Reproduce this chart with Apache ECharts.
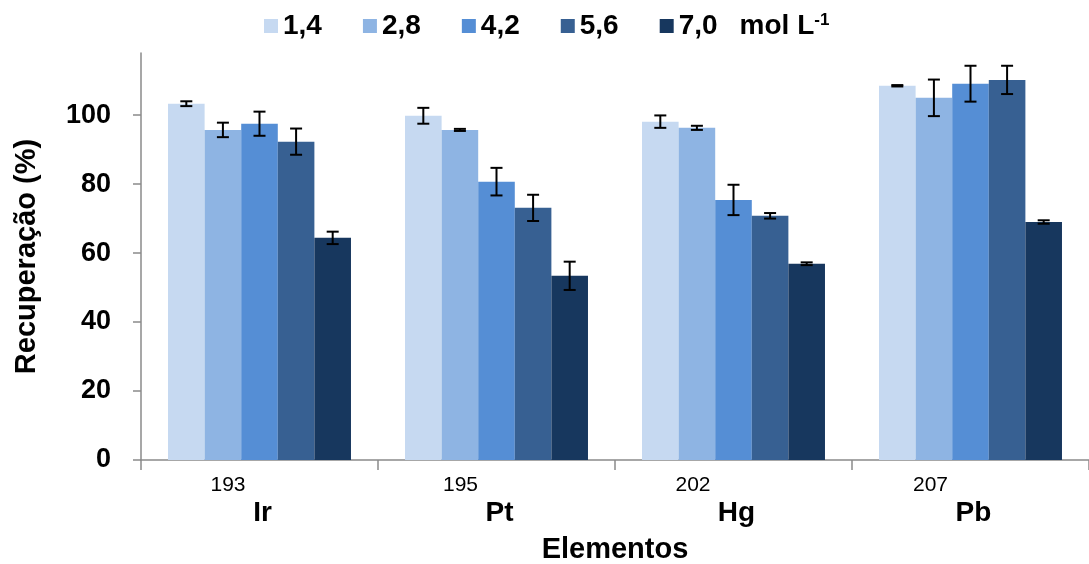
<!DOCTYPE html>
<html>
<head>
<meta charset="utf-8">
<script src="https://cdn.jsdelivr.net/npm/echarts@6/dist/echarts.min.js"></script>
<style>
  html, body { margin: 0; padding: 0; background: #fff; }
  #chart { width: 1089px; height: 564px; }
</style>
</head>
<body>
<div id="chart"></div>
<script>
// Elements and their mass numbers (isotope notation on the category axis)
const elements = ['Ir', 'Pt', 'Hg', 'Pb'];
const massNumbers = ['193', '195', '202', '207'];

// Acid concentrations (mol L-1), one bar series each
const concentrations = ['1,4', '2,8', '4,2', '5,6', '7,0'];

// Recovery (%) per concentration, ordered as `elements`
const rec14 = [103.3, 99.8, 98.1, 108.5];
const rec28 = [95.7, 95.7, 96.3, 105.0];
const rec42 = [97.5, 80.7, 75.4, 109.1];
const rec56 = [92.3, 73.1, 70.8, 110.2];
const rec70 = [64.4, 53.4, 56.9, 69.0];

// Standard deviations (%) per concentration
const sd14 = [0.7, 2.3, 1.8, 0.2];
const sd28 = [2.1, 0.3, 0.6, 5.3];
const sd42 = [3.5, 4.0, 4.4, 5.2];
const sd56 = [3.8, 3.8, 0.8, 4.1];
const sd70 = [1.8, 4.1, 0.4, 0.5];

// Y axis tick values
const yTicks = [0, 20, 40, 60, 80, 100];

const recovery = [rec14, rec28, rec42, rec56, rec70];
const deviations = [sd14, sd28, sd42, sd56, sd70];
const colors = ['#C6D9F1', '#8EB4E3', '#558ED5', '#376092', '#17375E'];

const FONT = '"Liberation Sans", Arial, sans-serif';
const CAT_GAP = 0.228;
const AXIS_COLOR = '#8a8a8a';
const NUM_FONT = '21px ' + FONT;
const EL_FONT = 'bold 28px ' + FONT;

// text width helper for placing the mass number left of the symbol
const measureCtx = document.createElement('canvas').getContext('2d');
function textWidth(str, font) {
  measureCtx.font = font;
  return measureCtx.measureText(str).width;
}

const chart = echarts.init(document.getElementById('chart'), null, { renderer: 'canvas' });

const barSeries = concentrations.map((name, k) => ({
  name: name,
  type: 'bar',
  data: recovery[k],
  barGap: 0,
  barCategoryGap: (CAT_GAP * 100) + '%',
  itemStyle: { color: colors[k] },
  emphasis: { disabled: true },
  z: 2
}));

// error bars (mean ± sd) drawn over each bar of the group
const errorSeries = concentrations.map((name, k) => ({
  name: 'sd ' + name,
  type: 'custom',
  data: recovery[k].map((v, i) => [i, v, deviations[k][i]]),
  z: 5,
  silent: true,
  renderItem: function (params, api) {
    const cat = api.value(0), v = api.value(1), e = api.value(2);
    const band = api.size([1, 0])[0];
    const bw = band * (1 - CAT_GAP) / concentrations.length;
    const cx = api.coord([cat, v])[0] + (k - (concentrations.length - 1) / 2) * bw;
    const yTop = api.coord([cat, v + e])[1];
    const yBot = api.coord([cat, v - e])[1];
    const cap = 6;
    const st = { stroke: '#000', lineWidth: 2 };
    return {
      type: 'group',
      children: [
        { type: 'line', shape: { x1: cx, y1: yTop, x2: cx, y2: yBot }, style: st },
        { type: 'line', shape: { x1: cx - cap, y1: yTop, x2: cx + cap, y2: yTop }, style: st },
        { type: 'line', shape: { x1: cx - cap, y1: yBot, x2: cx + cap, y2: yBot }, style: st }
      ]
    };
  }
}));

// rich styles for the category labels: mass number sits up and to the left of the symbol
const catRich = {
  el: { fontFamily: FONT, fontSize: 28, fontWeight: 'bold', color: '#000', lineHeight: 32, padding: [0, 0, 0, 6] }
};
massNumbers.forEach((num, idx) => {
  const wNum = textWidth(num, NUM_FONT);
  const wEl = textWidth(elements[idx], EL_FONT);
  catRich['n' + idx] = {
    fontFamily: FONT, fontSize: 21, color: '#000', lineHeight: 24,
    padding: [0, Math.round(wNum + wEl + 9), 0, 0]
  };
});

const option = {
  animation: false,
  backgroundColor: '#fff',
  textStyle: { fontFamily: FONT },
  legend: {
    data: concentrations,
    left: 259,
    top: 7,
    itemWidth: 14,
    itemHeight: 14,
    itemGap: 41,
    icon: 'rect',
    textStyle: {
      fontFamily: FONT, fontSize: 28, fontWeight: 'bold', color: '#000',
      rich: {
        v: { fontFamily: FONT, fontSize: 28, fontWeight: 'bold', color: '#000' },
        u: { fontFamily: FONT, fontSize: 28, fontWeight: 'bold', color: '#000', padding: [0, 0, 0, 22] },
        s: { fontFamily: FONT, fontSize: 17, fontWeight: 'bold', color: '#000', verticalAlign: 'top' }
      }
    },
    formatter: function (name) {
      return name === '7,0' ? '{v|7,0}{u|mol L}{s|-1}' : '{v|' + name + '}';
    }
  },
  grid: { left: 141, right: 0, top: 53, bottom: 104, containLabel: false, outerBoundsMode: 'none' },
  xAxis: {
    type: 'category',
    data: elements,
    name: 'Elementos',
    nameLocation: 'middle',
    nameGap: 75,
    nameTextStyle: { fontFamily: FONT, fontSize: 29, fontWeight: 'bold', color: '#000' },
    axisLine: { lineStyle: { color: AXIS_COLOR, width: 1.5 } },
    axisTick: { show: true, length: 10, interval: 0, lineStyle: { color: AXIS_COLOR, width: 1.5 } },
    axisLabel: {
      interval: 0,
      margin: 13,
      formatter: function (val, idx) {
        return '{n' + idx + '|' + massNumbers[idx] + '}\n{el|' + val + '}';
      },
      rich: catRich
    },
    splitLine: { show: false }
  },
  yAxis: {
    type: 'value',
    min: 0,
    max: 118,
    interval: 20,
    name: 'Recuperação (%)',
    nameLocation: 'middle',
    nameGap: 100,
    nameTextStyle: { fontFamily: FONT, fontSize: 29, fontWeight: 'bold', color: '#000' },
    axisLine: { show: true, lineStyle: { color: AXIS_COLOR, width: 1.5 } },
    axisTick: { show: true, length: 8, customValues: yTicks, lineStyle: { color: AXIS_COLOR, width: 1.5 } },
    axisLabel: {
      customValues: yTicks,
      margin: 30,
      fontFamily: FONT, fontSize: 27, fontWeight: 'bold', color: '#000'
    },
    splitLine: { show: false }
  },
  series: barSeries.concat(errorSeries)
};

chart.setOption(option);
</script>
</body>
</html>
